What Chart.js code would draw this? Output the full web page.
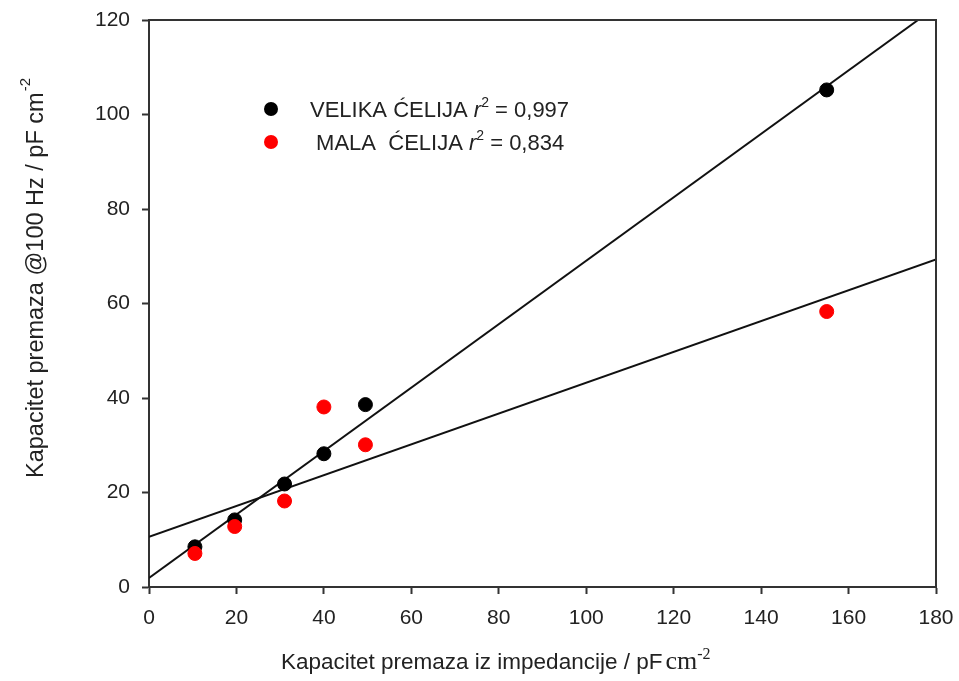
<!DOCTYPE html>
<html>
<head>
<meta charset="utf-8">
<script src="https://cdn.jsdelivr.net/npm/chart.js@4.4.1/dist/chart.umd.min.js"></script>
<style>
  html, body { margin: 0; padding: 0; background: #fff; }
  #wrap { width: 959px; height: 681px; }
</style>
</head>
<body>
<div id="wrap"><canvas id="capChart"></canvas></div>
<script>
// measured values
const impedanceX = [10.5, 19.6, 31, 40, 49.5, 155];
const velikaY = [8.5, 14.2, 21.8, 28.2, 38.6, 105.2];
const malaY = [7.1, 12.8, 18.2, 38.1, 30.1, 58.3];

// regression lines, endpoints
const velikaFitX = [0, 175.9];
const velikaFitY = [1.9, 120];
const malaFitX = [0, 180];
const malaFitY = [10.6, 69.3];

const xTicks = [0, 20, 40, 60, 80, 100, 120, 140, 160, 180];
const yTicks = [0, 20, 40, 60, 80, 100, 120];

const legendLabels = [
  { name: 'VELIKA ĆELIJA', r2: '0,997', color: '#000000' },
  { name: ' MALA  ĆELIJA', r2: '0,834', color: '#ff0000' }
];

const toPts = (xs, ys) => xs.map((x, i) => ({ x: x, y: ys[i] }));

const sansFont = '"Liberation Sans", Arial, sans-serif';
const serifFont = '"Liberation Serif", "Times New Roman", serif';

const decorPlugin = {
  id: 'decor',
  afterDraw(chart) {
    const ctx = chart.ctx;
    const a = chart.chartArea;
    ctx.save();
    // frame top & right
    ctx.strokeStyle = '#333';
    ctx.lineWidth = 2;
    ctx.beginPath();
    ctx.moveTo(a.left, a.top);
    ctx.lineTo(a.right, a.top);
    ctx.lineTo(a.right, a.bottom);
    ctx.stroke();

    // legend
    ctx.textBaseline = 'alphabetic';
    legendLabels.forEach((l, i) => {
      const cy = a.top + 89 + i * 33;
      ctx.fillStyle = l.color;
      ctx.beginPath();
      ctx.arc(a.left + 122, cy, 7, 0, Math.PI * 2);
      ctx.fill();
      ctx.fillStyle = '#222';
      ctx.font = '22px ' + sansFont;
      let x = a.left + 161;
      const base = cy + 8;
      ctx.fillText(l.name + ' ', x, base);
      x += ctx.measureText(l.name + ' ').width;
      ctx.font = 'italic 22px ' + sansFont;
      ctx.fillText('r', x, base);
      x += ctx.measureText('r').width;
      ctx.font = '14px ' + sansFont;
      ctx.fillText('2', x, base - 10);
      x += ctx.measureText('2').width;
      ctx.font = '22px ' + sansFont;
      ctx.fillText(' = ' + l.r2, x, base);
    });

    // x title
    ctx.fillStyle = '#222';
    let tx = 281;
    const ty = 669;
    ctx.font = '22.5px ' + sansFont;
    const xt = 'Kapacitet premaza iz impedancije / pF';
    ctx.fillText(xt, tx, ty);
    tx += ctx.measureText(xt).width + 3;
    ctx.font = '26px ' + serifFont;
    ctx.fillText('cm', tx, ty);
    tx += ctx.measureText('cm').width;
    ctx.font = '16px ' + serifFont;
    ctx.fillText('-2', tx, ty - 10);

    // y title
    ctx.translate(43, 478);
    ctx.rotate(-Math.PI / 2);
    ctx.font = '23.5px ' + sansFont;
    const yt = 'Kapacitet premaza @100 Hz / pF cm';
    ctx.fillText(yt, 0, 0);
    const w = ctx.measureText(yt).width;
    ctx.font = '15px ' + sansFont;
    ctx.fillText('-2', w + 1, -13);
    ctx.restore();
  }
};

const ctx = document.getElementById('capChart').getContext('2d');
const capChart = new Chart(ctx, {
  type: 'scatter',
  data: {
    datasets: [
      {
        label: 'VELIKA ĆELIJA',
        data: toPts(impedanceX, velikaY),
        backgroundColor: '#000',
        borderColor: '#000',
        pointRadius: 7,
        order: 1
      },
      {
        label: 'MALA ĆELIJA',
        data: toPts(impedanceX, malaY),
        backgroundColor: '#ff0000',
        borderColor: '#ff0000',
        pointRadius: 7,
        order: 0
      },
      {
        type: 'line',
        label: 'velika fit',
        data: toPts(velikaFitX, velikaFitY),
        borderColor: '#111',
        borderWidth: 2,
        pointRadius: 0,
        fill: false,
        order: 2
      },
      {
        type: 'line',
        label: 'mala fit',
        data: toPts(malaFitX, malaFitY),
        borderColor: '#111',
        borderWidth: 2,
        pointRadius: 0,
        fill: false,
        order: 2
      }
    ]
  },
  options: {
    responsive: true,
    maintainAspectRatio: false,
    animation: false,
    layout: { padding: { left: 0, right: 23, top: 20, bottom: 0 } },
    plugins: {
      legend: { display: false },
      tooltip: { enabled: false }
    },
    scales: {
      x: {
        type: 'linear',
        min: 0,
        max: 180,
        afterFit(scale) { scale.height = 94; },
        afterBuildTicks(scale) { scale.ticks = xTicks.map(v => ({ value: v })); },
        grid: { drawOnChartArea: false, tickLength: 7, color: '#333', tickWidth: 2 },
        border: { color: '#333', width: 2 },
        ticks: {
          color: '#222',
          padding: 4,
          maxRotation: 0,
          font: { family: sansFont, size: 21, lineHeight: 1.9 }
        }
      },
      y: {
        type: 'linear',
        min: 0,
        max: 120,
        afterFit(scale) { scale.width = 149; },
        afterBuildTicks(scale) { scale.ticks = yTicks.map(v => ({ value: v })); },
        grid: { drawOnChartArea: false, tickLength: 7, color: '#333', tickWidth: 2 },
        border: { color: '#333', width: 2 },
        ticks: {
          color: '#222',
          padding: 12,
          font: { family: sansFont, size: 21, lineHeight: 0.3 }
        }
      }
    }
  },
  plugins: [decorPlugin]
});
</script>
</body>
</html>
